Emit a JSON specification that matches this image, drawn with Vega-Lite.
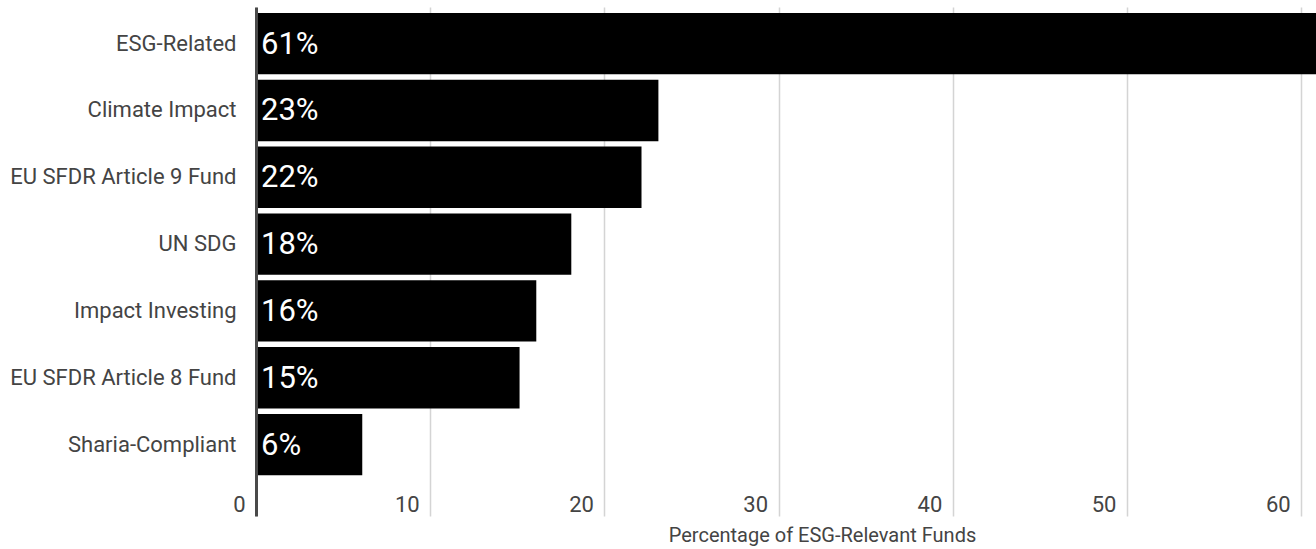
{
  "$schema": "https://vega.github.io/schema/vega-lite/v6.json",
  "autosize": {"type": "none"},
  "padding": {"left": 256, "top": 7, "right": 0, "bottom": 33},
  "width": 1060,
  "height": 509,
  "background": "white",
  "config": {"view": {"stroke": null}, "font": "Roboto"},
  "data": {
    "values": [
      {"category": "ESG-Related", "value": 61.2, "label": "61%"},
      {"category": "Climate Impact", "value": 23.1, "label": "23%"},
      {"category": "EU SFDR Article 9 Fund", "value": 22.13, "label": "22%"},
      {"category": "UN SDG", "value": 18.1, "label": "18%"},
      {"category": "Impact Investing", "value": 16.09, "label": "16%"},
      {"category": "EU SFDR Article 8 Fund", "value": 15.13, "label": "15%"},
      {"category": "Sharia-Compliant", "value": 6.1, "label": "6%"}
    ]
  },
  "encoding": {
    "y": {
      "field": "category",
      "type": "nominal",
      "sort": null,
      "scale": {"paddingInner": 0.082, "paddingOuter": 0.35, "align": 0.128},
      "axis": {
        "title": null,
        "ticks": false,
        "labelPadding": 20,
        "labelLimit": 300,
        "labelFontSize": 22,
        "labelColor": "#444444",
        "labelFont": "Roboto",
        "domainColor": "#4a4a4a",
        "domainWidth": 3,
        "zindex": 1
      }
    }
  },
  "layer": [
    {
      "mark": {"type": "bar", "color": "#000000", "clip": true},
      "encoding": {
        "x": {
          "field": "value",
          "type": "quantitative",
          "scale": {"domain": [0, 60.85], "nice": false},
          "axis": {
            "title": "Percentage of ESG-Relevant Funds",
            "values": [0, 10, 20, 30, 40, 50, 60],
            "domain": false,
            "ticks": false,
            "grid": true,
            "gridColor": "#d4d4d4",
            "gridWidth": 1.5,
            "labelAlign": "right",
            "labelBaseline": "alphabetic",
            "labelPadding": -5,
            "labelOffset": -11,
            "labelFontSize": 22,
            "labelColor": "#444444",
            "labelFont": "Roboto",
            "labelBound": false,
            "labelOverlap": false,
            "titleFont": "Roboto",
            "titleFontSize": 20,
            "titleFontWeight": "normal",
            "titleColor": "#444444",
            "titleX": 566,
            "titleY": 25,
            "titleAlign": "center",
            "titleBaseline": "alphabetic"
          }
        }
      }
    },
    {
      "mark": {"type": "text", "align": "left", "baseline": "middle", "dx": 5, "dy": 1, "fontSize": 31, "color": "white", "font": "Roboto"},
      "encoding": {
        "x": {"datum": 0, "type": "quantitative"},
        "text": {"field": "label"}
      }
    }
  ]
}
